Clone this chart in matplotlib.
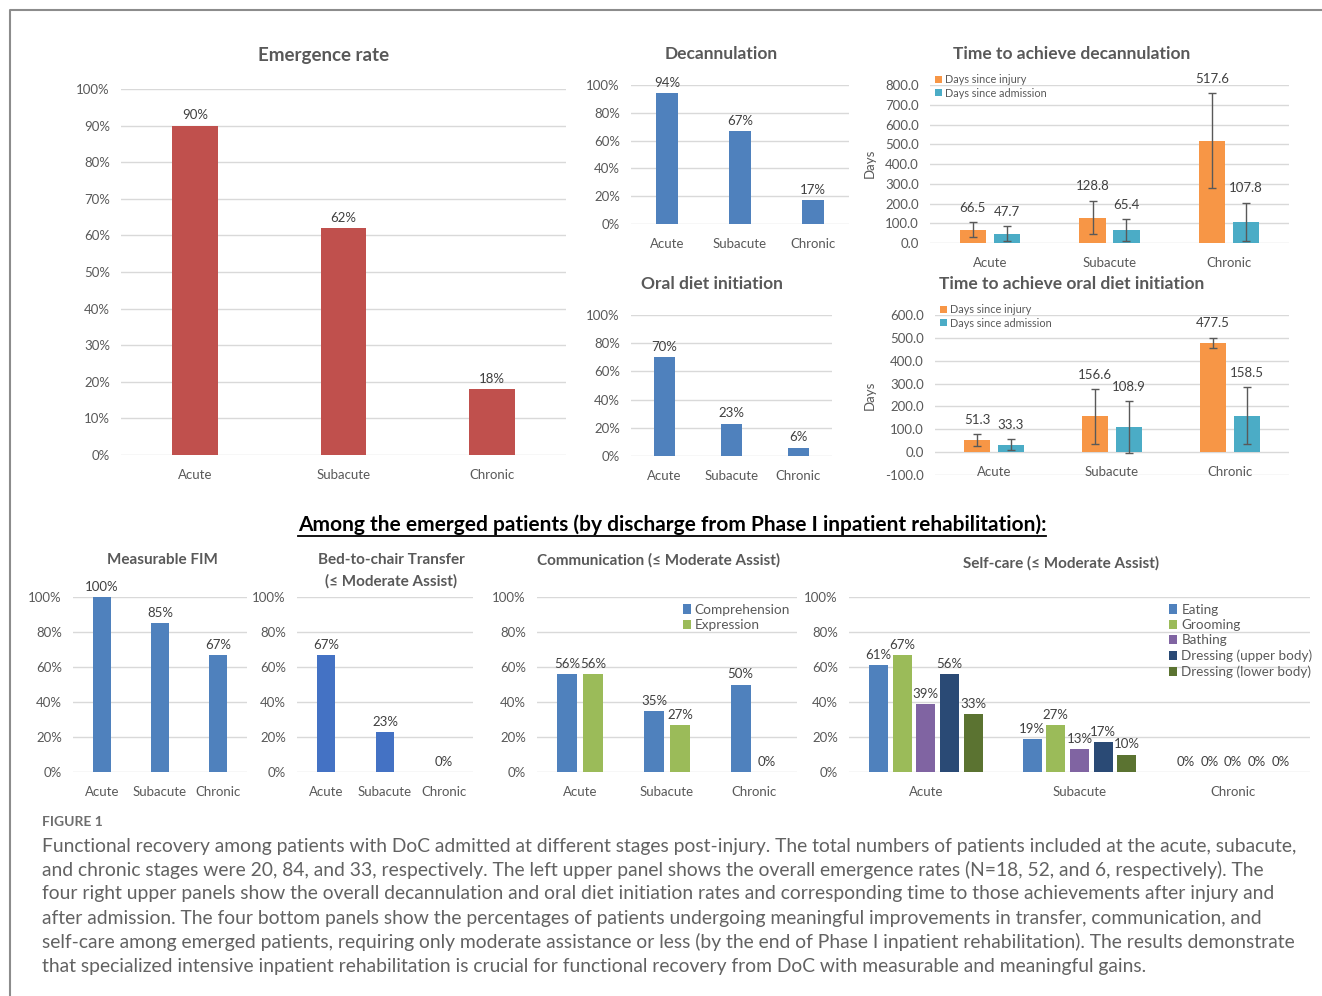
"""Functional recovery figure: emergence, decannulation, oral diet and post-emergence gains."""
import numpy as np
import matplotlib
matplotlib.use("Agg")
import matplotlib.pyplot as plt
from matplotlib.lines import Line2D

STAGES = ["Acute", "Subacute", "Chronic"]

emergence = [90, 62, 18]
decannulation = [94, 67, 17]
oral_diet = [70, 23, 6]

# days to decannulation (mean, error)
decan_injury = [66.5, 128.8, 517.6]
decan_injury_err = [38, 85, 240]
decan_admit = [47.7, 65.4, 107.8]
decan_admit_err = [36, 56, 97]

# days to oral diet initiation (mean, error)
oral_injury = [51.3, 156.6, 477.5]
oral_injury_err = [26, 120, 24]
oral_admit = [33.3, 108.9, 158.5]
oral_admit_err = [24, 113, 125]

fim = [100, 85, 67]
transfer = [67, 23, 0]

comm_names = ["Comprehension", "Expression"]
comprehension = [56, 35, 50]
expression = [56, 27, 0]

selfcare_names = ["Eating", "Grooming", "Bathing",
                  "Dressing (upper body)", "Dressing (lower body)"]
eating = [61, 19, 0]
grooming = [67, 27, 0]
bathing = [39, 13, 0]
dress_upper = [56, 17, 0]
dress_lower = [33, 10, 0]

CAPTION = [
    "Functional recovery among patients with DoC admitted at different stages post-injury. The total numbers of patients included at the acute, subacute,",
    "and chronic stages were 20, 84, and 33, respectively. The left upper panel shows the overall emergence rates (N=18, 52, and 6, respectively). The",
    "four right upper panels show the overall decannulation and oral diet initiation rates and corresponding time to those achievements after injury and",
    "after admission. The four bottom panels show the percentages of patients undergoing meaningful improvements in transfer, communication, and",
    "self-care among emerged patients, requiring only moderate assistance or less (by the end of Phase I inpatient rehabilitation). The results demonstrate",
    "that specialized intensive inpatient rehabilitation is crucial for functional recovery from DoC with measurable and meaningful gains.",
]

W, H = 1322, 996
FONT = ["Lato", "DejaVu Sans"]
GRAY = "#595959"
LABEL = "#404040"
GRID = "#D9D9D9"

plt.rcParams["font.family"] = FONT


def px_axes(fig, x0, x1, ytop, ybot):
    return fig.add_axes([x0 / W, 1 - ybot / H, (x1 - x0) / W, (ybot - ytop) / H])


def style(ax, lo, hi, step, fmt, size=9.5, xlabels=True):
    ticks = np.arange(lo, hi + step / 2, step)
    ax.set_ylim(lo, hi)
    ax.set_yticks(ticks)
    ax.set_yticklabels([fmt(t) for t in ticks])
    ax.set_xlim(-0.5, len(STAGES) - 0.5)
    ax.set_xticks(range(len(STAGES)))
    ax.set_xticklabels(STAGES if xlabels else [])
    ax.set_axisbelow(True)
    ax.yaxis.grid(True, color=GRID, lw=1)
    for s in ax.spines.values():
        s.set_visible(False)
    ax.tick_params(length=0, labelsize=size, labelcolor=GRAY, pad=8)
    ax.tick_params(axis="x", pad=10)
    ax.patch.set_alpha(0)


def pct(t):
    return f"{t:.0f}%"


def pct_panel(fig, box, vals, color, width=0.31, size=9.5):
    ax = px_axes(fig, *box)
    x = np.arange(len(STAGES))
    ax.bar(x, vals, width, color=color)
    style(ax, 0, 100, 20 if box[3] - box[2] < 250 else 10, pct, size=size)
    for xi, v in zip(x, vals):
        ax.annotate(pct(v), (xi, v), xytext=(0, 3), textcoords="offset points",
                    ha="center", va="bottom", fontsize=size, color=LABEL)
    return ax


def time_panel(fig, box, inj, inj_err, adm, adm_err, lo, hi, legend_y, ylab_y):
    ax = px_axes(fig, *box)
    x = np.arange(len(STAGES))
    ek = dict(ecolor=GRAY, elinewidth=1, capsize=3, capthick=1)
    ax.bar(x - 0.142, inj, 0.22, yerr=inj_err, color="#F79646",
           error_kw=ek, label="Days since injury")
    ax.bar(x + 0.142, adm, 0.22, yerr=adm_err, color="#4BACC6",
           error_kw=ek, label="Days since admission")
    style(ax, lo, hi, 100, lambda t: f"{t:.1f}", xlabels=lo >= 0)
    if lo < 0:
        # category names sit just under the zero line, not at the axis bottom
        for xi, name in zip(x, STAGES):
            ax.annotate(name, (xi, 0), xytext=(0, -10), textcoords="offset points",
                        ha="center", va="top", fontsize=9.5, color=GRAY)
    for off, vals, errs in [(-0.142, inj, inj_err), (0.142, adm, adm_err)]:
        for xi, v, e in zip(x, vals, errs):
            ax.annotate(f"{v:.1f}", (xi + off, v + e), xytext=(0, 6),
                        textcoords="offset points", ha="center", va="bottom",
                        fontsize=9.5, color=LABEL)
    fig.text(870 / W, 1 - ylab_y / H, "Days", rotation=90, ha="center",
             va="center", fontsize=9.5, color=GRAY)
    ax.legend(loc="upper left", bbox_to_anchor=(box[0] / W, 1 - legend_y / H),
              bbox_transform=fig.transFigure, frameon=False, fontsize=7.8,
              handlelength=0.6, handleheight=0.6, handletextpad=0.3,
              labelspacing=0.2, borderpad=0, labelcolor=GRAY)
    return ax


def title(fig, x, y, text, size):
    fig.text(x / W, 1 - y / H, text, ha="center", va="center", fontsize=size,
             fontweight="bold", color=GRAY)


def main():
    fig = plt.figure(figsize=(W / 100, H / 100), dpi=100)

    # frame
    fig.add_artist(Line2D([10 / W, 10 / W, 1], [0, 1 - 10 / H, 1 - 10 / H],
                          transform=fig.transFigure, color="#8C8C8C", lw=1.5))

    # upper row
    pct_panel(fig, (121, 566, 89, 455), emergence, "#C0504D")
    title(fig, 324, 56, "Emergence rate", 13.5)
    pct_panel(fig, (631, 849, 85, 224), decannulation, "#4F81BD", width=0.3)
    title(fig, 721, 54, "Decannulation", 12.5)
    pct_panel(fig, (631, 832, 315, 456), oral_diet, "#4F81BD", width=0.3)
    title(fig, 712, 284, "Oral diet initiation", 12.5)

    time_panel(fig, (930, 1289, 85, 243), decan_injury, decan_injury_err,
               decan_admit, decan_admit_err, 0, 800, 69, 163)
    title(fig, 1072, 54, "Time to achieve decannulation", 12.5)
    time_panel(fig, (935, 1289, 315, 475), oral_injury, oral_injury_err,
               oral_admit, oral_admit_err, -100, 600, 299, 395)
    title(fig, 1072, 284, "Time to achieve oral diet initiation", 12.5)

    # heading for lower row, underlined
    head = fig.text(672 / W, 1 - 525 / H,
                    "Among the emerged patients (by discharge from Phase I inpatient rehabilitation):",
                    ha="center", va="center", fontsize=15, fontweight="bold",
                    color="black")

    # lower row
    pct_panel(fig, (73, 247, 597, 772), fim, "#4F81BD")
    title(fig, 162, 560, "Measurable FIM", 11)
    pct_panel(fig, (297, 473, 597, 772), transfer, "#4472C4")
    title(fig, 391, 560, "Bed-to-chair Transfer", 11)
    title(fig, 391, 581, "(≤ Moderate Assist)", 11)

    ax = px_axes(fig, 537, 797, 597, 772)
    x = np.arange(len(STAGES))
    for off, vals, col, name in [(-0.15, comprehension, "#4F81BD", comm_names[0]),
                                 (0.15, expression, "#9BBB59", comm_names[1])]:
        ax.bar(x + off, vals, 0.23, color=col, label=name)
        for xi, v in zip(x, vals):
            ax.annotate(pct(v), (xi + off, v), xytext=(0, 3),
                        textcoords="offset points", ha="center", va="bottom",
                        fontsize=9.5, color=LABEL)
    style(ax, 0, 100, 20, pct)
    ax.legend(loc="upper right", bbox_to_anchor=(1.0, 1.0), frameon=False,
              fontsize=9.8, handlelength=0.6, handleheight=0.7,
              handletextpad=0.3, labelspacing=0.25, borderpad=0, labelcolor=GRAY)
    title(fig, 659, 560, "Communication (≤ Moderate Assist)", 11)

    ax = px_axes(fig, 849, 1310, 597, 772)
    cols = ["#4F81BD", "#9BBB59", "#8064A2", "#2A4A75", "#5B7331"]
    series = [eating, grooming, bathing, dress_upper, dress_lower]
    for i, (vals, col, name) in enumerate(zip(series, cols, selfcare_names)):
        off = (i - 2) * 0.154
        ax.bar(x + off, vals, 0.124, color=col, label=name)
        for xi, v in zip(x, vals):
            ax.annotate(pct(v), (xi + off, v), xytext=(0, 3),
                        textcoords="offset points", ha="center", va="bottom",
                        fontsize=9.5, color=LABEL)
    style(ax, 0, 100, 20, pct)
    ax.legend(loc="upper left", bbox_to_anchor=(0.68, 1.0), frameon=False,
              fontsize=9.7, handlelength=0.6, handleheight=0.7,
              handletextpad=0.3, labelspacing=0.25, borderpad=0, labelcolor=GRAY)
    title(fig, 1061, 563, "Self-care (≤ Moderate Assist)", 11)

    # caption
    fig.text(42 / W, 1 - 822 / H, "FIGURE 1", ha="left", va="center",
             fontsize=10, fontweight="bold", color="#6E6E6E")
    lines = []
    for i, line in enumerate(CAPTION):
        lines.append(fig.text(42 / W, 1 - (846 + 24 * i) / H, line, ha="left",
                              va="center", fontsize=12.5, color="#626262"))

    # size caption so its first line spans the text column, then underline the heading
    fig.canvas.draw()
    r = fig.canvas.get_renderer()
    w0 = lines[0].get_window_extent(r).width
    for t in lines:
        t.set_fontsize(12.5 * 1258 / w0)
    bb = head.get_window_extent(r)
    fig.add_artist(Line2D([bb.x0 / W, bb.x1 / W], [(bb.y0 - 1) / H] * 2,
                          transform=fig.transFigure, color="black", lw=1.3))

    fig.savefig("out.png", dpi=100)
    plt.close(fig)


if __name__ == "__main__":
    main()
